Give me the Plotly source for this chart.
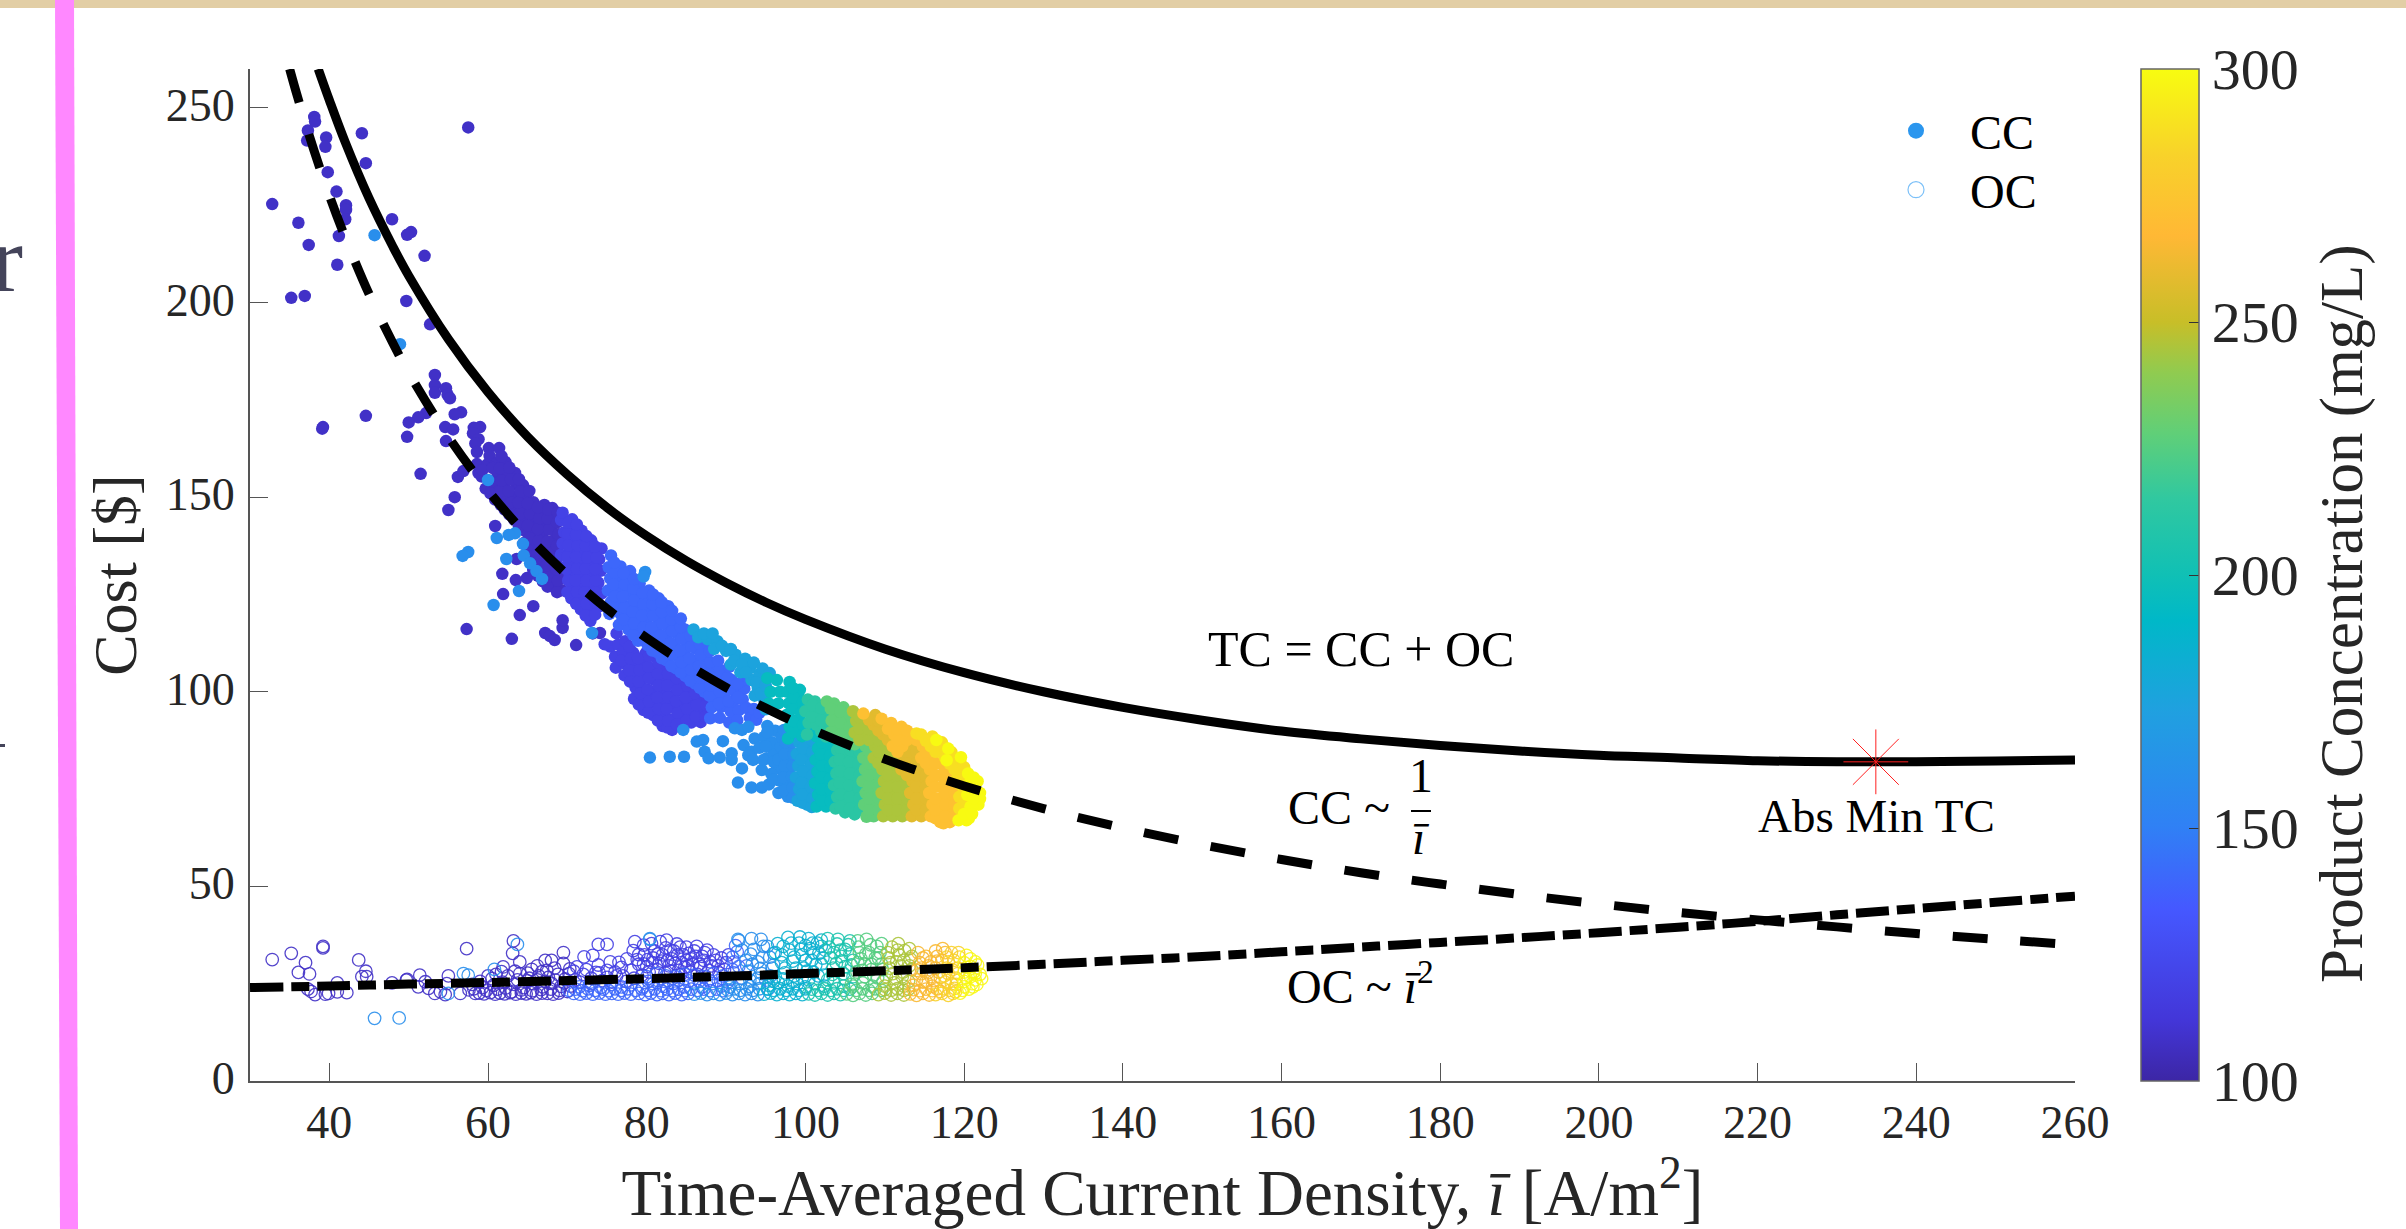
import plotly.graph_objects as go

# ---------- curves ----------
tc_x = [38.6,40,42,45,48,50,55,60,65,70,75,80,85,90,95,100,110,120,130,140,150,160,170,180,190,200,210,220,230,235,240,250,260]
tc_y = [260,252,241.2,226.8,214.4,206.9,190.6,177,165.5,155.8,147.3,140,133.6,128,123,118.6,111,104.9,100,96,92.7,89.9,87.9,86.2,84.8,83.7,83,82.3,82,82,82,82.2,82.5]
cc_line_x = [35,36,38,40,42,45,48,50,55,60,65,70,75,80,85,90,95,100,110,120,130,140,150,160,170,180,190,200,210,220,230,240,250,260]
cc_line_y = [260,252.8,239.5,227.5,216.7,202.2,189.6,182,165.5,151.7,140,130,121.3,113.8,107.1,101.1,95.8,91,82.7,75.8,70,65,60.7,56.9,53.5,50.6,47.9,45.5,43.3,41.4,39.6,37.9,36.4,35]
oc_line_x = [30,40,50,60,70,80,90,100,110,120,130,140,150,160,170,180,190,200,210,220,230,240,250,260]
oc_line_y = [24,24.4,24.9,25.3,25.8,26.3,26.9,27.6,28.3,29.1,30,31,32,33.2,34.4,35.6,36.8,38.1,39.5,41,42.7,44.3,45.9,47.5]
min_x = [234.9]
min_y = [82]

# ---------- capital cost points, grouped by product concentration ----------
cc_108 = [(38.1,247.7),(38.2,246.5),(37.3,244.2),(37.2,241.6),(39.6,242.4),(39.5,240),(44.1,243.5),(57.5,245),(44.6,235.8),(39.8,233.5),
(40.9,228.5),(32.8,225.3),(42.1,225),(42.1,223.8),(42,221.4),(36.1,220.5),(47.9,221.4),(50.3,218.1),(49.8,217.4),(41.2,217.1),
(37.4,214.8),(52,212),(41,209.7),(35.2,201.2),(36.9,201.7),(49.7,200.4),(52.7,194.4),(53.3,181.4),(53.3,178.8),(53.3,176.8),
(54.7,178),(54.9,176.3),(55.2,175.4),(56.6,171.8),(55.8,171.3),(52.2,171.6),(51.2,170.5),(50,169.2),(44.6,170.9),(39.2,168),
(39.1,167.6),(54.6,168),(55.6,167.4),(59,168),(58.2,167.8),(58.1,166.4),(58.8,164.9),(58.4,163.8),(54.7,164.4),(49.8,165.5),
(58.6,161.6),(60.1,162.6),(61.4,162.6),(51.5,156),(56.2,155.2),(56.9,156.7),(58.8,156.2),(55.8,150),(55,146.7),(60.9,142.6),
(63.6,134.1),(61.8,130.3),(63.5,128.7),(64.9,129.2),(61.9,125.1),(65.7,122),(64,119.7),(57.3,116.1),(63,113.6),(67.2,115.1),
(67.8,114.3),(68.4,113.3),(71.1,112),(69.4,116.4),(69.4,118.4),(72.7,120.2),(74.1,115.1),(73.2,115),
(58.6,158.5),(59.2,155.3),(59.7,152.2),(59.9,158.4),(60.2,160.6),(60.9,149.4),(61,152.7),(61.2,155.6),(61.1,158.8),(62.1,146.8),
(62.3,150.1),(62,153.2),(62.4,156),(62.2,159),(63.3,144.2),(63.5,147),(63.2,150.2),(63.6,153.3),(63.4,156.2),(64.5,138.2),
(64.7,141.3),(64.3,144.4),(64.6,147.3),(64.8,150),(64.4,153.1),(65.7,131.3),(65.9,134.2),(65.5,137.1),(65.8,140.4),(65.6,143.2),
(66,146.1),(65.7,148.7),(66.9,128.4),(67.1,131),(66.7,134.3),(67,137.2),(66.8,140.1),(67.2,143.3),(66.9,146),(67.1,148),
(68.1,127.2),(68.3,130.1),(67.9,133),(68.2,136.3),(68.4,139.1),(68,142.2),(68.3,145.1),(68.1,147.2),(69.3,126.1),(69.1,129.2),
(59.3,157),(60.3,151),(60.4,154),(60.6,157.5),(61.6,148),(61.5,151.4),(61.7,154.3),(61.5,157.4),(61.7,160.5),(62.7,145.5),
(62.9,148.6),(62.6,151.6),(62.9,154.6),(62.7,157.6),(63.9,142.5),(64,145.8),(63.8,148.6),(64.1,151.5),(63.9,154.6),(65,136.5),
(65.2,139.5),(65,142.7),(65.3,145.8),(65,148.4),(65.2,151.6),(66.3,129.8),(66.4,132.8),(66.2,135.6),(66.4,138.8),(66.3,141.8),
(66.5,144.6),(66.3,147.4),(67.5,127),(67.6,129.6),(67.4,132.5),(67.6,135.6),(67.5,138.6),(67.7,141.7),(67.5,144.5),(67.6,146.8),
(68.7,125.6),(68.8,128.6),(68.6,131.5),(68.8,134.6),(68.7,137.6),(68.9,140.5),(68.7,143.5),(68.8,146)]
cc_120 = [(69.5,132),(69.2,135.2),(69.4,138.1),(69.6,141),(69.2,144.1),(69.4,146),(70.5,124),(70.7,127.2),(70.3,130),(70.6,133.1),
(70.4,136.2),(70.8,139),(70.5,142),(70.6,144.3),(71.7,121.2),(71.9,124),(71.5,127.1),(71.8,130),(71.6,133.2),(71.9,136),
(71.7,139.1),(71.8,141.4),(72.9,118.2),(73.1,121),(72.7,124.2),(73,127.1),(72.8,130),(73.2,133),(72.9,136.1),(73,138.9),
(74.1,122),(74.3,125.2),(73.9,128),(74.2,131.1),(74,134),(74.3,136.8),(75.4,111.6),(74.7,112.2),(76,109),(76.1,106.2),
(76.4,112.1),(76.2,115),(77.2,104.2),(77.4,107),(77,110.2),(77.3,113),(78.4,98.2),(78.6,101),(78.2,104.1),(78.5,107),
(78.3,110),(79.6,95.3),(79.8,98),(79.4,101.2),(79.7,104),(79.5,107.1),(79.9,110),(80.8,94),(81,97.1),(80.6,100),
(80.9,103.1),(80.7,106),(81.1,109),(82,91.2),(82.2,94),(81.8,97.2),(82.1,100),(81.9,103),(82.3,106.1),(83.2,90.2),
(83.4,93),(83,96.1),(83.3,99),(83.1,102.2),(83.5,105),(84.4,91),(84.6,94.1),(84.2,97),(84.5,100.1),(84.3,103),
(85.6,92.1),(85.8,95),(85.4,98.1),(85.7,101),(86.8,92.2),(87,95.1),(86.6,98),(86.9,100.6),
(70,125.6),(70.1,128.6),(69.9,131.5),(70,134.7),(70.1,137.6),(70,140.6),(70.1,143.4),(71.1,122.6),(71.2,125.7),(71,128.6),
(71.2,131.6),(71.1,134.6),(71.3,137.6),(71.1,140.4),(71.2,143),(72.3,119.6),(72.4,122.6),(72.2,125.6),(72.4,128.5),(72.3,131.6),
(72.5,134.5),(72.3,137.5),(72.4,140),(73.5,119.8),(73.6,122.8),(73.4,125.6),(73.6,128.6),(73.5,131.5),(73.7,134.5),(73.5,137.3),
(76.8,108),(77.9,102.6),(77.8,105.6),(78,108.6),(77.8,111.6),(79,96.7),(79.2,99.6),(79,102.7),(79.1,105.6),(78.9,108.6),
(80.2,94.6),(80.3,97.5),(80.1,100.6),(80.3,103.5),(80.2,106.4),(80.3,109.2),(81.4,92.6),(81.5,95.6),(81.3,98.5),(81.5,101.6),
(81.4,104.6),(81.5,107.4),(82.6,90.8),(82.7,92.6),(82.5,95.6),(82.7,98.6),(82.6,101.6),(82.7,104.6),(83.8,91.6),(83.9,94.6),
(83.7,97.6),(83.9,100.5),(83.8,103.5),(85,92.6),(85.1,95.6),(84.9,98.5),(85.1,101.6),(86.2,93.6),(86.3,96.6),(86.1,99.6),
(87.4,93.6),(87.5,96.6),(87.4,99.2)]
cc_140 = [(75.3,120),(75.5,123.1),(75.1,126),(75.4,129.1),(75.2,132),(75.5,135),(76.5,117.2),(76.7,120),(76.3,123),(76.6,126.1),
(76.4,129),(76.7,132.2),(77.7,116),(77.9,119.1),(77.5,122),(77.8,125),(77.6,128.1),(77.9,131),(78.9,113.1),(79.1,116),
(78.7,119),(79,122.1),(78.8,125),(79.1,127.8),(80.1,112),(80.3,115.1),(79.9,118),(80.2,121),(80,124.1),(80.3,126),
(81.3,110.2),(81.5,113),(81.1,116.1),(81.4,119),(81.2,122),(81.5,124),(82.5,108.1),(82.7,111),(82.3,114),(82.6,117.1),
(82.4,120),(82.7,122),(83.7,106),(83.9,109.1),(83.5,112),(83.8,115),(83.6,118),(84.9,104),(85.1,107.1),(84.7,110),
(85,113),(84.8,116),(86.1,102.1),(86.3,105),(85.9,108),(86.2,111.1),(87.3,100),(87.5,103.1),(87.1,106),(87.4,109),
(87.2,112),(88.5,98),(88.7,101.1),(88.3,104),(88.6,107),(88,93.2),(88.2,96),(89.2,93.3),(89.4,96.1),(89.7,99),
(89.9,102),(89.5,105),(90.4,92.1),(90.6,95),(90.9,97.5),(91.1,100.2),(90.7,103),(91.6,95.2),(91.4,92.7),(92.1,98),
(92.3,100.8),(92.6,95.8),(93,93.3),(93.5,95.6),(93.8,92.8),(94.2,94.6),(92.2,103),
(75.9,121.6),(76,124.6),(75.8,127.6),(76,130.6),(75.9,133.2),(77.1,118.6),(77.2,121.6),(77,124.5),(77.2,127.6),(77.1,130.4),
(78.3,114.6),(78.4,117.6),(78.2,120.6),(78.4,123.5),(78.3,126.5),(78.4,129),(79.5,113.6),(79.6,116.5),(79.4,119.6),(79.6,122.6),
(79.5,125.4),(80.7,110.6),(80.8,113.6),(80.6,116.6),(80.8,119.6),(80.7,122.5),(80.8,125),(81.9,108.6),(82,111.6),(81.8,114.6),
(82,117.6),(81.9,120.5),(81.9,123),(83.1,106.6),(83.2,109.6),(83,112.5),(83.2,115.6),(83.1,118.6),(83.2,120.8),(84.3,105),
(84.4,107.6),(84.2,110.6),(84.4,113.6),(84.3,116.6),(84.3,118.8),(85.5,102.8),(85.6,105.6),(85.4,108.6),(85.6,111.6),(85.5,114.4),
(86.7,101),(86.8,103.6),(86.6,106.6),(86.8,109.6),(86.7,112.4),(87.9,99),(88,101.6),(87.8,104.6),(88,107.6),(87.9,110.4),
(89.1,97),(89.2,100),(89,102.6),(89.2,105.6),(89,108),(90.3,97.6),(90.4,100.6),(90.2,103.6),(90.4,106.4),(91.4,102),(91.5,98.6)]
cc_160 = [(45.7,217.3),(48.9,189.3),(60,154.4),(63.4,140.7),(62.6,140.3),(64.4,138),(64.5,135),(65.3,133),(66.1,131),(66.8,129),
(61.1,139.5),(57.5,135.9),(56.8,134.9),(62.3,134.1),(63.9,125.9),(60.7,122.3),(73.1,115.1),(79.8,130.8),(79.6,129.6),(80.4,83.1),
(82.9,83.3),(84.7,83.3),(86.3,87.2),(87.1,87.6),(89.6,87.3),(87.3,84.6),(87.8,82.9),(89.2,83.1),(90.7,84.2),(90.7,82.5),
(92.2,86.3),(93.2,84.6),(92.8,83.7),(92,80.3),(93.4,82.5),(91.5,76.7),(93.2,75.4),(94.5,75.4),(95.1,82.9),(96.4,80.3),
(94.5,79.9),(84.6,90.2),(91.1,90.6),(92,90.2),(92.8,91),(93.6,88),(94.2,85.6),(94.8,88.4),(95.2,91.2),(95.4,76.2),
(95.7,78.9),(96,84.2),(95.8,87),(96.2,90),(96.6,74),(96.8,77.1),(97,83),(96.9,85.8),(97,88.4),(97.8,73),
(97.9,76),(97.7,79),(98,82),(97.9,85),
(94.7,82.5),(95,86),(95.2,89.6),(96,82),(96,77.4),(96.6,82.6),(97.3,74.6),(97.2,78),(97.4,81),(97.4,84),
(97.5,87),(97.3,90.2),(98.4,72.8),(98.4,75.4),(98.3,78.2),(98.4,81),(98.5,84),(98.4,87)]
cc_175 = [(85.9,116),(86.5,114),(87.7,113.5),(88.9,113),(88.5,111),(90,110.5),(91.2,109.5),(92.4,108.5),(90.6,107),(91.8,105),
(93,106),(93.2,103),(94.2,104.5),(94,101),(94.8,98),(93.6,99),(95,95.5),(99,72),(99.2,75),(98.8,78),(99.1,81),
(98.9,84),(99.2,87),(100.2,71),(100.4,74),(100,77),(100.3,80),(100.1,83),(100.4,86),
(87.2,115),(88.3,115),(89.5,111.8),(90.6,111),(91,108),(92,107),(92.5,105),(93.5,107.5),(93.8,102.4),(94.6,106),
(94.4,99.6),(95,101.6),(95.5,104.8),(99.6,71.5),(99.6,73.7),(99.5,76.6),(99.7,79.6),(99.5,82.6),(99.7,85.5),(100.8,70.4),
(100.9,72.6),(100.7,75.5),(100.9,78.5),(100.8,81.4),(100.9,84.6),(100.8,87.6)]
cc_195 = [(95.4,97),(95.6,100),(95.2,103.5),(96.6,97),(96.8,100),(96.4,103),(97.8,88),(98,91),(97.6,94),(97.9,97),
(97.7,100),(98,102.5),(99,90),(99.2,93),(98.8,96),(99.1,99),(99.3,100.5),(101.4,70.5),(101.6,73.5),(101.2,76.5),
(101.5,79.5),(101.3,82.5),(101.6,85.5),(101.4,88.5),(102.6,70.5),(102.8,73.5),(102.4,76.5),(102.7,79.5),(102.5,82.5),(102.8,85.5),
(98.4,89.6),(98.5,92.5),(98.3,95.5),(98.5,98.6),(98.4,101),(99.6,88.6),(99.7,91.6),(99.5,94.6),(99.7,97.5),(100.8,90.5),
(102,72),(102,75),(102,78),(102.1,81),(101.9,84),(102.1,87),(103.2,71.8),(103.2,74.8),(103.1,77.7),(103.2,80.6),
(103.1,83.6),(103.3,86.6)]
cc_212 = [(100.2,89),(100.4,92),(100,95),(100.3,98),(101.4,91.5),(101.6,94.5),(101.2,97.5),(102.6,88.5),(102.8,91),(102.4,94),
(103.8,70),(104,73),(103.6,76),(103.9,79),(103.7,82),(104,85),(103.8,88),(105,69),(105.2,72),(104.8,75),
(105.1,78),(104.9,81),(105.2,84),(105,87),(106.2,68.5),(106.4,71.5),(106,74.5),(106.3,77.5),(106.1,80.5),(106.4,83.5),
(100.8,93.6),(100.9,96.6),(102,89.8),(102,92.6),(102,95.8),(104.4,70.5),(104.4,73.7),(104.3,76.6),(104.4,79.6),(104.3,82.6),
(104.4,85.6),(105.6,70),(105.6,73),(105.5,76),(105.6,79),(105.5,82),(105.7,85),(106.8,69.6),(106.8,72.6),(106.7,75.6),
(106.8,78.6),(106.7,81.6),(106.8,84.6)]
cc_228 = [(102.7,97.5),(103.8,91),(104,94),(103.6,97),(105,90),(105.2,93),(104.8,96),(106.2,86.5),(107.7,67.9),(107.4,71),
(107.6,74),(107.2,77),(107.5,80),(107.3,83),(107.6,86),(108.6,68),(108.8,71),(108.4,74),(108.7,77),(108.5,80),
(103.2,89.6),(103.3,92.6),(103.2,95.6),(104.4,89),(104.4,92),(104.4,95),(105.6,88),(105.6,91),(105.6,94),(108,69.6),
(108,72.6),(108,75.6),(108,78.6),(108,81.6),(108,84.6),(109.2,69.6),(109.2,72.6),(109.2,75.6),(109.2,78.6)]
cc_245 = [(106.2,89.5),(106.4,92.5),(106,95),(107.4,89),(107.6,92),(108.6,83),(108.8,86),(108.4,89),(109.8,68),(110,71),
(109.6,74),(109.9,77),(109.7,80),(110,83),(109.8,86),(111,68),(111.2,71),(110.8,74),(111.1,77),(110.9,80),
(111.2,83),(112.2,68),(112.4,71),(112,74),(112.3,77),
(106.8,87.6),(106.8,90.6),(106.8,93.5),(108,87.6),(108,90.4),(109.2,81.6),(109.2,84.6),(109.2,87.6),(110.4,69.6),(110.4,72.6),
(110.4,75.6),(110.4,78.6),(110.4,81.6),(110.4,84.6),(111.6,69.6),(111.6,72.6),(111.6,75.6),(111.6,78.6),(111.6,81.6),(112.8,69.6),
(112.8,72.6),(112.8,75.6)]
cc_258 = [(108.6,91.5),(108.8,94),(109.8,89),(110,91.5),(112.1,80),(112.4,83),(113.4,68),(113.6,71),(113.2,74),(113.5,77),
(113.3,80),(113.6,83),(113.4,86),(114.6,68),(114.8,71),(114.4,74),(114.7,77),(114.5,80),
(108,92.8),(109.2,90),(109.2,92.5),(110.4,87.6),(112.8,78.6),(112.8,81.6),(112.8,84.6),(114,69.6),(114,72.6),(114,75.6),
(114,78.6),(114,81.6),(114,84.6),(115.2,69.6),(115.2,72.6),(115.2,75.6),(115.2,78.6)]
cc_272 = [(107.3,94.4),(109.6,93.1),(111,86),(111.2,89),(110.8,92),(112.2,86),(112.4,89),(112.1,91),(113.4,89),(114.6,83),
(114.8,86),(115.8,68),(116,71),(115.6,74),(115.9,77),(115.7,80),(116,83),(117,66.5),(117.2,69.5),(116.8,72.5),
(117.1,75.5),(116.9,78.5),(117.4,66.2),(118.2,66.5),(118.4,69.5),(118,72.5),(118.3,75.5),(118.1,78.5),(117.2,81.5),
(110.4,90.5),(111.6,84.6),(111.6,87.6),(111.6,90.4),(112.8,87.6),(112.8,90),(114,87.6),(115.2,81.6),(115.2,84.6),(116.4,67.5),
(116.4,69.6),(116.4,72.6),(116.4,75.6),(116.4,78.6),(116.4,81.6),(117.6,68),(117.6,71),(117.6,74),(117.6,77),(117.6,80),
(118.8,68),(118.8,71),(118.8,74)]
cc_288 = [(114,89.3),(114.6,89),(115.8,86),(116,88.5),(117,84.5),(117.2,87),(118.2,81.5),(118.4,84.5),(119.4,73),(119.6,76),
(119.2,79),(119.5,82),(119.4,70),(115.2,87.4),(116.4,84.6),(116.4,87),(117.6,83),(117.6,85.6),(118.8,77),(118.8,80),
(118.8,83),(120,71.6),(120,74.6),(120,77.6),(120,80.6)]
cc_299 = [(116.5,87.6),(117.8,82.4),(118,85.4),(119.3,67),(119.6,83.2),(120.3,67),(120.6,67.5),(120.8,70.5),(120.4,73.5),(120.7,76.5),
(120.5,79),(121.8,71),(122,74),(121.7,77),(122,72.5),(121,70.5),(120,68.6),(121.2,72.6),(121.2,75.6),(121.2,78),(121,68.6)]
cc_conc = [108,120,140,160,175,195,212,228,245,258,272,288,299]
cc_groups = [cc_108,cc_120,cc_140,cc_160,cc_175,cc_195,cc_212,cc_228,cc_245,cc_258,cc_272,cc_288,cc_299]

# ---------- operating cost points, grouped by product concentration ----------
oc_108 = [(32.8,31.2),(35.2,32.8),(37,30.4),(36.1,27.9),(37.5,27.5),(39.2,34.2),(39.2,34.6),(37.3,23.6),(37.7,23),(38.2,22.2),
(39.5,22.3),(39.9,22.5),(41,25.2),(41,22.9),(42.2,22.7),(43.7,31.1),(44.6,28.2),(44.1,26.8),(44.7,26.8),(47.9,25.2),
(49.8,26.1),(49.7,25.9),(51.4,27.2),(52.1,25.5),(51.2,24.2),(52.5,23.8),(53.3,22.5),(57.3,34),(63.2,36),(63.1,32.8),
(64,30.6),(61.9,29.3),(61.7,28.1),(63.4,28.2),(55,27),(54.8,25),(54,22.9),(54.6,22.2),(56.5,22.5),(58.4,22.5),
(58.9,22.6),(59.5,22.4),(60.3,22.7),(60.9,22.3),(61.5,22.6),(62.1,22.4),(62.8,22.7),(63.5,22.3),(64.2,22.6),(64.8,22.4),
(65.4,22.7),(66.1,22.3),(66.8,22.6),(67.5,22.5),(68.2,22.3),(68.9,22.6),(59.3,24),(60.7,24.6),(62.2,23.9),(63.3,24.8),
(64.5,24),(65.7,25),(66.9,24.2),(68,25.1),(69.2,24.3),(65.5,28.7),(66.8,28.1),(67.2,31),(68,31),(69.5,33),
(69.5,30.2),(65.2,26.4),(66.4,27),(67.6,26.6),(68.8,27.4),(69.7,26.2),(70.2,27.6),(70.4,24.4),
(58.2,23.7),(59,25.6),(59.8,23.3),(60.5,26.3),(61.2,23.6),(61.8,25.4),(62.5,27),(63,22.9),(63.7,26),(64.2,23.4),
(64.9,25.7),(65.6,23.2),(66.2,26),(66.7,23.5),(67.2,25.6),(67.9,23.6),(68.5,25.9),(69,23.3),(69.6,25.2),(70,23),
(70.3,28.8),(66.2,29.6),(67.4,28.4),(68.4,29),(57.6,23.4),(58,24.8),(60,27),(61,27.4),(64,27.6),(65,27.7)]
oc_118 = [(71.2,29.3),(72.1,31.9),(73.2,32.3),(73.9,35.1),(75,35.1),(73.9,29.8),(75.4,30.6),(78.3,33.5),(78.5,35.8),(79.6,34.9),
(80.6,35.3),(82.5,36.2),(81.7,35.8),(71,26),(72,27.4),(73,26.4),(74,27.8),(75,26.6),(76,28),(77,27),
(78,28.4),(79,30),(80,29.4),(80.8,31.6),(81,33.4),(81.6,30.2),(82,32.4),(82.4,34.2),(82.8,29.6),(83.2,31.4),
(83.4,33.4),(83.8,35.2),(84,28.4),(84.4,30.4),(84.6,32.4),(85,34.4),(85.2,29.4),(85.6,31.4),(86,33.4),(86.3,34.6),
(86.6,30),(87,32),(87.6,33.6),(88,30.6),(88.4,32.4),(89,29.6),(89.4,31.6),(76.5,30.5),(77.5,31.4),(79,32.5),
(70.8,28.2),(71.6,25.4),(72.4,28.6),(73,25),(73.6,27.9),(74.4,25.8),(75,28.4),(75.6,25.4),(76.2,27),(76.8,29.2),
(77.4,25.6),(78.4,26.4),(78.8,31.2),(79.4,27.2),(79.7,32.4),(80.3,28),(80.7,30.4),(81.3,28.6),(81.4,32.6),(81.9,30.8),
(82.3,27.8),(82.6,31),(83,33.6),(83,28.2),(83.6,30.2),(83.9,32.4),(84.2,34.4),(84.3,27.4),(84.8,29.2),(85,31),
(85.3,32.8),(85.5,28),(85.8,30),(86.2,32),(86.4,27.4),(86.8,29.4),(87.2,31),(87.3,33),(87.8,28.4),(88.2,29.6),
(88.7,31),(89.1,27.8),(89.8,28.6),(90,30.4),(90.3,32.4),(80.1,31.2),(79.6,30.1)]
oc_140 = [(70.8,22.5),(71.6,22.3),(72.4,22.6),(73.2,22.3),(74,22.6),(74.8,22.3),(75.6,22.5),(76.4,22.3),(77.2,22.6),(78,22.3),
(71.5,24.2),(72.8,24.6),(74.2,24),(75.5,24.8),(76.8,24.2),(78,24.7),(79,22.5),(79.8,22.2),(80.5,22.6),(81.3,22.2),
(82,22.5),(82.8,22.2),(83.6,22.6),(84.4,22.2),(85.2,22.5),(79.5,24.2),(80.8,25),(82.1,24.3),(83.4,25.1),(84.7,24.2),
(86,25),(80,26.8),(81.2,27.6),(82.4,27),(83.6,26.8),(84.8,27.4),(86,27.2),(87.2,26.8),(88.4,27.6),(89.6,27),
(87,24.2),(88.2,25),(89.4,24.4),(90.5,26.2),(90.8,28.6),(91,30.6),(91.4,33.2),
(70.2,23.3),(71,23.6),(71.9,23.2),(72.6,23.7),(73.5,23.3),(74.5,23.6),(75.2,23.2),(76,23.7),(76.8,23.3),(77.6,23.7),
(78.6,23.3),(79.4,23.7),(80.2,23.3),(81,23.7),(81.8,23.2),(82.6,23.6),(83.3,23.2),(84,23.6),(84.8,23.2),(85.6,23.6),
(86.4,23.3),(87.2,23.6),(88,23.2),(88.8,23.6),(89.6,23.2),(80.2,25.6),(81.4,25.8),(82.7,25.8),(84,25.9),(85.3,25.7),
(86.6,25.6),(87.8,25.9),(89,25.8),(90.2,25.4),(91,27.8),(91.6,29.4),(92,26.4),(92.6,29.6),(90.8,31.8),(91.2,34.8)]
oc_160 = [(45.7,16.1),(48.8,16.2),(55,22.5),(63.7,35.1),(60.8,28.7),(56.9,27.6),(57.5,27.2),(80.4,36.4),(80.4,36.6),(86,22.3),
(86.8,22.6),(87.6,22.2),(88.4,22.5),(89.2,22.2),(90,22.6),(90.8,22.2),(91.6,22.5),(92.4,22.2),(93.2,22.5),(94,22.2),
(90.5,24.2),(91.8,25),(93,24.3),(94.2,25),(91.5,36.4),(91.6,36.1),(93.2,36.6),(94.4,36.4),(92,33.6),(92.5,31),
(92.8,28.2),(93.5,33.8),(94,30.6),(94.5,27.6),(95.2,34.6),(95.5,31.8),(95.8,29),
(90.2,23.4),(91,23.7),(91.8,23.3),(92.6,23.7),(93.4,23.3),(94.2,23.7),(93,25.9),(94,26.4),(95,25.9),(94.3,28.9),
(93.3,30),(93.1,32.6),(94.6,31.8),(94.7,34.6),(95.6,27),(95.3,23.6),(96,32.8),(96,29.8)]
oc_185 = [(94.8,22.3),(95.6,22.6),(96.4,22.2),(97.2,22.5),(98,22.2),(98.8,22.5),(99.6,22.2),(95.4,24.6),(96.6,25.2),(97.8,24.4),
(99,25),(96.2,26.8),(97.4,27.8),(98.6,27),(96.2,33),(96.5,35.3),(97,30.4),(97.8,36.9),(98,33.6),(98.4,30.8),
(99.2,35.4),(99.3,37),(99.6,32.4),(99.8,29),(100.4,36.6),(100.6,34),(100.8,31),(101,28),(101.5,35.4),(101.7,32.8),
(102,30),(102.3,27.2),(100,24.2),(101.2,25),(102.4,24.4),
(95.2,23.7),(96,23.3),(96.8,23.7),(97.6,23.3),(98.4,23.7),(99.2,23.3),(100,23.7),(96,25.6),(97.2,26.2),(98.4,25.6),
(99.6,26.6),(100.4,26),(97.4,29),(97,32.4),(97.2,34.6),(98.2,35.4),(98.6,31.8),(98.8,29),(99.4,33.8),(100,31),
(100,34.8),(100.2,28.2),(100.9,35.4),(101,33),(101.3,29.8),(101.6,27),(102,34.6),(102.2,31.6),(102.5,33.6),(102,36.2)]
oc_205 = [(100.4,22.4),(101.2,22.1),(102,22.5),(102.8,22.1),(103.6,22.5),(104.4,22.2),(102.8,36.6),(103,34.4),(103.2,31.6),(103.5,29),
(104.1,36.4),(104.4,33.6),(104.6,30.8),(104.8,27.6),(103.6,25.2),(104.8,24.4),(105.4,35),(105.6,32.6),(105.8,29.8),(106,26.8),
(100.8,23.6),(101.6,23.3),(102.4,23.7),(103.2,23.3),(104,23.7),(104.8,23.3),(102.8,26),(103.4,27.4),(103.9,30.2),(103.6,33),
(104,35.2),(104.5,32),(105,29.4),(105,26.2),(105,33.8),(105.6,36),(105.6,23.6),(106,31)]
oc_225 = [(105.2,22.4),(106,22),(106.8,22.5),(107.6,22.1),(108.4,22.5),(106,24.4),(107.2,25.2),(108.4,24.4),(106.7,34.4),(107,31.4),
(107.2,28.4),(107.7,36.4),(108,33),(108.3,30),(108.6,27.2),(109,34.6),(109.2,31.6),(109.6,35.3),(109.7,28.6),(109.8,25.6),
(105.8,24.8),(106.4,23.3),(107.2,23.7),(108,23.3),(108.8,23.7),(106.5,28),(106.6,30.4),(106.8,33),(107.5,26.8),(107.5,30),
(107.6,32.6),(108.3,28.6),(108.2,35),(108.8,31.6),(109.1,26.5),(109.4,33),(109.6,23.3),(109.6,30),(106.6,36)]
oc_245 = [(109.2,22.2),(110,22.6),(110.8,22.1),(111.6,22.5),(112.4,22.1),(110,24.4),(111.2,25.2),(112.4,24.4),(110.4,33),(110.7,30.4),
(111,27.6),(111.7,35.3),(111.8,32.4),(112,29.6),(112.2,26.8),(113.1,34),(113.2,31.4),(113.4,28.6),
(110,23.5),(110.8,23.3),(111.6,23.7),(112.4,23.3),(113,23.6),(110.2,26.8),(110.6,29),(110.5,31.6),(110.9,34.4),(111.4,26.4),
(111.5,30.6),(111.6,33.6),(112.3,28),(112.4,31),(112.5,33.5),(113,25.6),(113.1,29.6),(113.4,32)]
oc_265 = [(113.2,22.4),(114,22),(114.8,22.5),(115.6,22.1),(113.6,24.6),(114.8,25.4),(116,24.4),(114.2,33),(114.4,30.4),(114.6,27.6),
(115.2,32),(115.5,29.6),(115.8,26.8),(116.4,33.4),(116.6,30.8),(116.8,28),(117.3,34),(117,23),
(113.6,23.5),(114.4,23.2),(115.2,23.6),(116,23.2),(116.6,23.7),(114,26),(114.6,29),(114.8,31.6),(114,28.4),(115.2,25.6),
(115.4,27.8),(115.8,30.6),(116.2,25.8),(116.4,29),(116.6,32),(117,26.6),(117.2,31),(117.6,33)]
oc_282 = [(116.4,22.2),(117.2,22.5),(118,22),(118.6,22.5),(117.6,25.4),(118,27.6),(118,30.6),(118.4,33),(118.8,23.8),(119,26.4),
(119.2,29),(119.4,31.8),(117.4,23.7),(118.2,23.3),(118.9,22.9),(117.5,27),(117.8,29),(117.8,31.8),(118.4,25),(118.5,28.6),
(118.7,31),(119,24.8),(119.2,27.6),(119.3,33)]
oc_298 = [(119.5,22.6),(120,24.2),(120.2,26.6),(120.3,32.3),(120.4,29.2),(121,25),(121.1,24.2),(121.2,28),(121.4,30.6),(121.7,29.8),
(122,27.4),(122.2,26.3),(119.8,23.3),(120,25.6),(120,28),(120,30.4),(120.8,26.8),(120.6,23.6),(120.8,29.4),(120.8,31.4),
(121.4,26),(121.4,27.6),(121.6,24.8)]
oc_conc = [108,118,140,160,185,205,225,245,265,282,298]
oc_groups = [oc_108,oc_118,oc_140,oc_160,oc_185,oc_205,oc_225,oc_245,oc_265,oc_282,oc_298]

# ---------- axes and legend text ----------
x_ticks = [40,60,80,100,120,140,160,180,200,220,240,260]
y_ticks = [0,50,100,150,200,250]
cbar_ticks = [100,150,200,250,300]
series_names = ["CC","OC"]
parula = [[0,"#3C26A5"],[0.06,"#4336D8"],[0.17,"#4558FF"],[0.25,"#3080F5"],[0.365,"#20A0E0"],[0.455,"#00B8C8"],
          [0.5,"#10C0B5"],[0.575,"#30C8A0"],[0.64,"#60CF78"],[0.7,"#90CB50"],[0.75,"#C8BE28"],[0.835,"#FFB835"],
          [0.915,"#F8D22A"],[1,"#F8FC10"]]

def flatten(groups, concs):
    xs, ys, cs = [], [], []
    for g, c in zip(groups, concs):
        for p in g:
            xs.append(p[0]); ys.append(p[1]); cs.append(c)
    return xs, ys, cs

W, H = 2406, 1229
L, R, T, B = 250, 2075, 69, 1081
def px(x): return (x - L) / (R - L)
def py(y): return (B - y) / (B - T)

FONT = "Liberation Serif"
fig = go.Figure()

ocx, ocy, occ = flatten(oc_groups, oc_conc)
fig.add_trace(go.Scatter(x=ocx, y=ocy, mode="markers", showlegend=False,
    marker=dict(symbol="circle-open", size=12.5, color=occ, cmin=100, cmax=300, colorscale=parula,
                opacity=0.9, line=dict(width=1.3))))
ccx, ccy, ccc = flatten(cc_groups, cc_conc)
fig.add_trace(go.Scatter(x=ccx, y=ccy, mode="markers", showlegend=False,
    marker=dict(symbol="circle", size=12.5, color=ccc, cmin=100, cmax=300, colorscale=parula,
                line=dict(width=0),
                colorbar=dict(x=px(2141), xanchor="left", thickness=58, thicknessmode="pixels",
                              len=1012, lenmode="pixels", y=0, yanchor="bottom", ypad=0, xpad=0,
                              tickvals=cbar_ticks, ticks="inside", ticklen=10, tickcolor="#333", tickwidth=1,
                              outlinecolor="#666", outlinewidth=1.5, tickprefix="\u200a",
                              tickfont=dict(family=FONT, size=58, color="#262626")))))
fig.add_trace(go.Scatter(x=oc_line_x, y=oc_line_y, mode="lines", showlegend=False,
    line=dict(color="black", width=9, dash="33px,8px,18px,8px", shape="spline")))
fig.add_trace(go.Scatter(x=cc_line_x, y=cc_line_y, mode="lines", showlegend=False,
    line=dict(color="black", width=9, dash="35px,33px", shape="spline")))
fig.add_trace(go.Scatter(x=tc_x, y=tc_y, mode="lines", showlegend=False,
    line=dict(color="black", width=9, shape="spline")))
fig.add_trace(go.Scatter(x=min_x, y=min_y, mode="markers", showlegend=False,
    marker=dict(symbol="asterisk-open", size=54, color="#FF2020", line=dict(width=1, color="#FF2020"))))
fig.add_trace(go.Scatter(x=[None], y=[None], mode="markers", name=series_names[0], legend="legend",
    marker=dict(symbol="circle", size=18, color="#2B96EE")))
fig.add_trace(go.Scatter(x=[None], y=[None], mode="markers", name=series_names[1], legend="legend2",
    marker=dict(symbol="circle-open", size=18, color="#7CC0F8", line=dict(width=1.2))))

def note(text, x, y, size=48, color="black", xanchor="center", angle=0):
    fig.add_annotation(text=text, xref="paper", yref="paper", x=px(x), y=py(y), showarrow=False,
                       xanchor=xanchor, yanchor="middle", textangle=angle,
                       font=dict(family=FONT, size=size, color=color))

note("TC = CC + OC", 1361, 649, size=50)
note("CC ~", 1339, 807)
note("1", 1421, 775)
note("<i>ī</i>", 1421, 837)
note("OC ~ <i>ī</i><sup>2</sup>", 1360, 983)
note("Abs Min TC", 1876, 816, size=47)
note("Product Concentration (mg/L)", 2342, 614, size=61, color="#262626", angle=-90)
note("r", 25, 258, size=96, color="#44445A", xanchor="right")

shapes = [
    dict(type="rect", xref="paper", yref="paper", x0=px(0), x1=px(W), y0=py(0), y1=py(8),
         fillcolor="#E2CEA5", line=dict(width=0), layer="below"),
    dict(type="path", xref="paper", yref="paper",
         path=f"M {px(55)} {py(0)} L {px(74)} {py(0)} L {px(78)} {py(H)} L {px(60)} {py(H)} Z",
         fillcolor="#FF88FF", line=dict(width=0), layer="below"),
    dict(type="rect", xref="paper", yref="paper", x0=px(0), x1=px(5), y0=py(744), y1=py(747),
         fillcolor="#44445A", line=dict(width=0), layer="below"),
    dict(type="line", xref="paper", yref="paper", x0=px(1411), x1=px(1431), y0=py(811), y1=py(811),
         line=dict(color="black", width=2)),
]

legend_font = dict(family=FONT, size=48, color="black")
fig.update_layout(
    width=W, height=H, autosize=False,
    margin=dict(l=L, r=W - R, t=T, b=H - B, pad=0),
    paper_bgcolor="white", plot_bgcolor="white", shapes=shapes,
    font=dict(family=FONT, color="#262626"),
    legend=dict(x=px(1862), y=py(93), xanchor="left", yanchor="top", bgcolor="rgba(0,0,0,0)",
                itemwidth=98, itemsizing="trace", font=legend_font),
    legend2=dict(x=px(1862), y=py(152), xanchor="left", yanchor="top", bgcolor="rgba(0,0,0,0)",
                 itemwidth=98, itemsizing="trace", font=legend_font),
    xaxis=dict(range=[30, 260], tickvals=x_ticks, ticks="inside", ticklen=18, tickcolor="#555", tickwidth=1,
               showline=True, linecolor="#555", linewidth=2, showgrid=False, zeroline=False,
               tickfont=dict(family=FONT, size=46, color="#262626"),
               title=dict(text="Time-Averaged Current Density, <i>ī</i> [A/m<sup>2</sup>]", standoff=10,
                          font=dict(family=FONT, size=65, color="#262626"))),
    yaxis=dict(range=[0, 260], tickvals=y_ticks, ticks="inside", ticklen=18, tickcolor="#555", tickwidth=1,
               showline=True, linecolor="#555", linewidth=2, showgrid=False, zeroline=False,
               ticklabelstandoff=4, ticklabelshift=-3,
               tickfont=dict(family=FONT, size=46, color="#262626"),
               title=dict(text="Cost [$]", standoff=9, font=dict(family=FONT, size=62, color="#262626"))),
)

fig.write_html("out.html", config={"displayModeBar": False},
               post_script="document.body.style.margin='0';document.body.style.overflow='hidden';")
